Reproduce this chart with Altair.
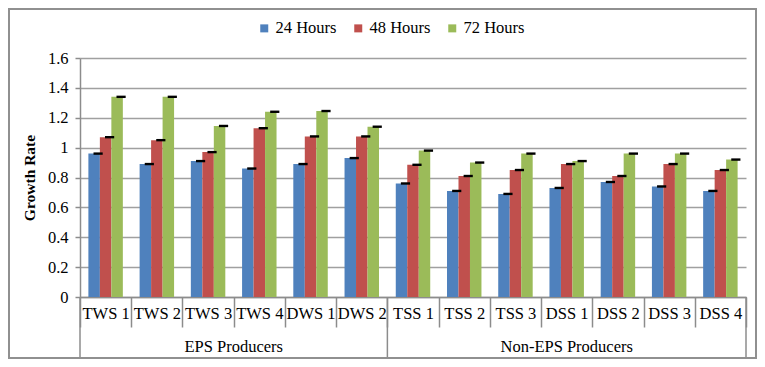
import altair as alt
import pandas as pd

categories = ["TWS 1", "TWS 2", "TWS 3", "TWS 4", "DWS 1", "DWS 2",
              "TSS 1", "TSS 2", "TSS 3", "DSS 1", "DSS 2", "DSS 3", "DSS 4"]
groups = ["EPS Producers"] * 6 + ["Non-EPS Producers"] * 7
series = ["24 Hours", "48 Hours", "72 Hours"]
h24 = [0.96, 0.89, 0.91, 0.86, 0.89, 0.93, 0.76, 0.71, 0.69, 0.73, 0.77, 0.74, 0.71]
h48 = [1.07, 1.05, 0.97, 1.13, 1.075, 1.075, 0.885, 0.81, 0.85, 0.89, 0.81, 0.89, 0.85]
h72 = [1.34, 1.34, 1.145, 1.24, 1.245, 1.14, 0.98, 0.90, 0.96, 0.91, 0.96, 0.96, 0.92]
err = 0.008
colors = ["#4F81BD", "#C0504D", "#9BBB59"]
yticks = [0, 0.2, 0.4, 0.6, 0.8, 1.0, 1.2, 1.4, 1.6]

rows = []
for s, vals in zip(series, [h24, h48, h72]):
    for c, g, v in zip(categories, groups, vals):
        rows.append({"category": c, "group": g, "series": s, "value": v,
                     "lo": v - err, "hi": v + err})
df = pd.DataFrame(rows)

W, H = 666, 239
FONT = "'Liberation Serif', 'Times New Roman', 'DejaVu Serif', serif"
GRAY = "#8c8c8c"
YTITLE = "Growth Rate"

xscale = alt.Scale(domain=categories, paddingInner=0, paddingOuter=0)
yscale = alt.Scale(domain=[0, 1.6], nice=False)
xoff = alt.XOffset("series:N", sort=series,
                   scale=alt.Scale(domain=series, paddingInner=0, paddingOuter=0.73))

x_axis = alt.Axis(title=None, labelAngle=0, tickBand="extent", tickSize=30,
                  tickColor=GRAY, tickWidth=1.5, domainColor=GRAY, domainWidth=1.5,
                  labelFont=FONT, labelFontSize=16.5, labelColor="black",
                  labelPadding=-22, labelBaseline="top", grid=False,
                  labelOverlap=False)
y_axis = alt.Axis(title=YTITLE, values=yticks, format="~g", labelOverlap=False,
                  tickCount=9,
                  gridColor="#a0a0a0", gridWidth=1.5, domainColor=GRAY, domainWidth=1.5,
                  tickColor=GRAY, tickWidth=1.5, tickSize=5,
                  labelFont=FONT, labelFontSize=16.5, labelColor="black", labelPadding=7,
                  titleFont=FONT, titleFontSize=15.5, titleFontWeight="bold",
                  titleColor="black", titlePadding=10)

base = alt.Chart(df)
bars = base.mark_bar().encode(
    x=alt.X("category:N", sort=categories, scale=xscale, axis=x_axis),
    xOffset=xoff,
    y=alt.Y("value:Q", scale=yscale, axis=y_axis),
    color=alt.Color("series:N", sort=series,
                    scale=alt.Scale(domain=series, range=colors),
                    legend=alt.Legend(title=None, orient="none", direction="horizontal",
                                      legendX=176, legendY=-38, padding=0,
                                      symbolType="square", symbolSize=64,
                                      symbolStrokeWidth=0, labelFont=FONT,
                                      labelFontSize=16.5, labelColor="black",
                                      labelOffset=3, columnPadding=13)),
)
caps = base.mark_bar(color="black", width=alt.RelativeBandSize(0.8)).encode(
    x=alt.X("category:N", sort=categories, scale=xscale, axis=x_axis),
    xOffset=xoff,
    y=alt.Y("lo:Q", scale=yscale, axis=y_axis),
    y2="hi:Q",
)

sep_start = pd.DataFrame({"category": ["TWS 1", "TSS 1"]})
sep_end = pd.DataFrame({"category": ["DSS 4"]})
rule1 = alt.Chart(sep_start).mark_rule(color=GRAY, strokeWidth=1.5).encode(
    x=alt.X("category:N", sort=categories, bandPosition=0, scale=xscale, axis=x_axis),
    y=alt.value(H), y2=alt.value(H + 60))
rule2 = alt.Chart(sep_end).mark_rule(color=GRAY, strokeWidth=1.5).encode(
    x=alt.X("category:N", sort=categories, bandPosition=1, scale=xscale, axis=x_axis),
    y=alt.value(H), y2=alt.value(H + 60))

lab1 = pd.DataFrame({"category": ["TWS 4"], "label": ["EPS Producers"]})
lab2 = pd.DataFrame({"category": ["DSS 1"], "label": ["Non-EPS Producers"]})
text_kw = dict(font=FONT, fontSize=16.5, color="black", baseline="middle", align="center")
t1 = alt.Chart(lab1).mark_text(**text_kw).encode(
    x=alt.X("category:N", sort=categories, bandPosition=0, scale=xscale, axis=x_axis),
    y=alt.value(H + 50), text="label:N")
t2 = alt.Chart(lab2).mark_text(**text_kw).encode(
    x=alt.X("category:N", sort=categories, bandPosition=0.5, scale=xscale, axis=x_axis),
    y=alt.value(H + 50), text="label:N")

border = alt.Chart(pd.DataFrame({"a": [0]})).mark_rect(
    fill=None, stroke="#909090", strokeWidth=2).encode(
    x=alt.value(-71), x2=alt.value(W + 10), y=alt.value(-49), y2=alt.value(H + 61))

chart = alt.layer(bars, caps, rule1, rule2, t1, t2, border).properties(
    width=W, height=H,
    autosize=alt.AutoSizeParams(type="none"),
    padding={"left": 72, "top": 50, "right": 11, "bottom": 62},
    background="white",
).configure_view(stroke=None)

chart.save("out.html", embed_options={"renderer": "svg", "actions": False})
